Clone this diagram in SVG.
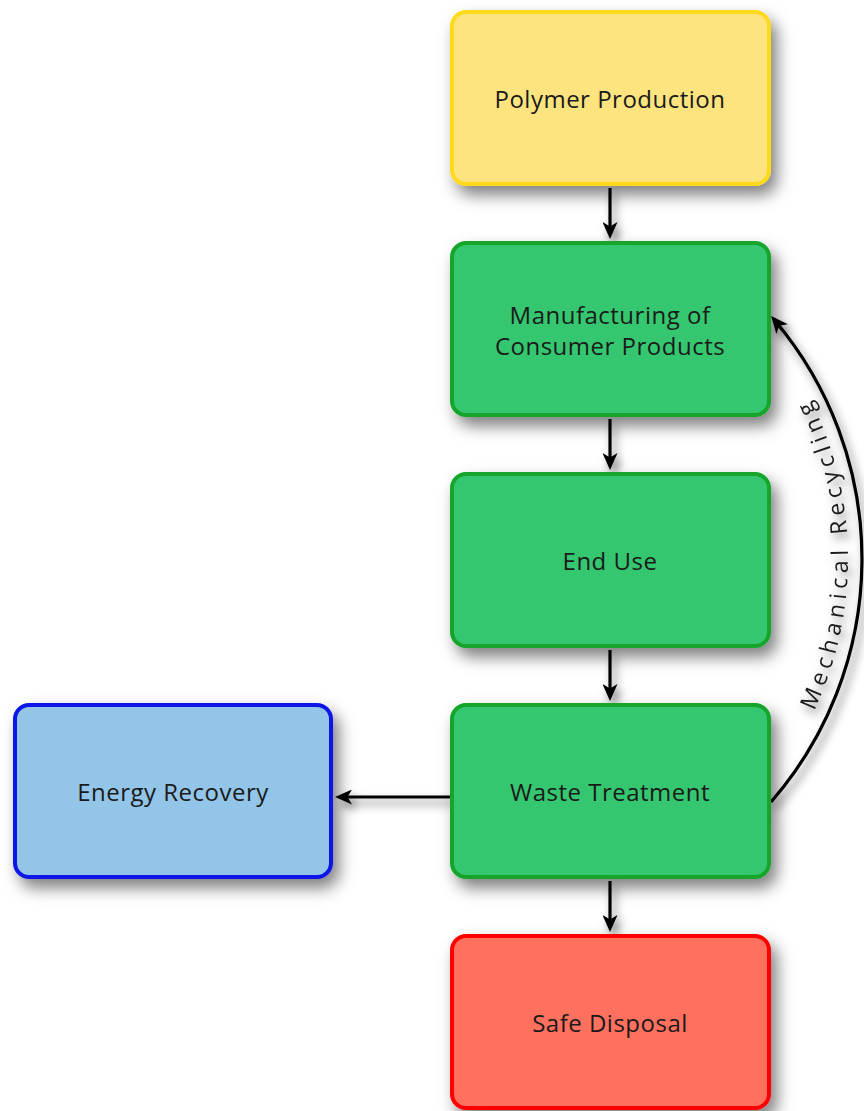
<svg xmlns="http://www.w3.org/2000/svg" width="864" height="1111" viewBox="0 0 864 1111">
  <defs>
    <filter id="shadow" x="-20%" y="-20%" width="150%" height="160%">
      <feDropShadow dx="6" dy="9" stdDeviation="8" flood-color="#000" flood-opacity="0.5"/>
    </filter>
    <filter id="lineShadow" x="-20%" y="-20%" width="150%" height="150%">
      <feDropShadow dx="4" dy="6" stdDeviation="5" flood-color="#000" flood-opacity="0.55"/>
    </filter>
    <marker id="head" viewBox="0 0 17 15" refX="11" refY="7.5" markerWidth="17" markerHeight="15" markerUnits="userSpaceOnUse" orient="auto">
      <path d="M0,0 L17,7.5 L0,15 L4.5,7.5 Z" fill="#000"/>
    </marker>
    <path id="recyclePath" d="M748.1,806.3 A356,356 0 0 0 739.3,302.9"/>
  </defs>
  <style>
    .box { stroke-width: 4; filter: url(#shadow); }
    .yellow { fill: #FDE47E; stroke: #FFD91A; }
    .green { fill: #34C770; stroke: #12A52A; }
    .blue { fill: #93C5E8; stroke: #0B18E6; }
    .red { fill: #FF6F5F; stroke: #FF0000; }
    .label { font-family: "Open Sans", "Noto Sans", sans-serif; font-size: 24px; letter-spacing: 0.5px; fill: #1a1a1a; text-anchor: middle; dominant-baseline: central; }
    .conn { fill: none; stroke: #000; stroke-width: 3.2; marker-end: url(#head); }
    .arc-label { font-family: "Open Sans", "Noto Sans", sans-serif; font-size: 23px; letter-spacing: 5px; fill: #1a1a1a; }
  </style>

  <rect width="864" height="1111" fill="#FFFFFF"/>

  <g id="connectors" filter="url(#lineShadow)">
    <line class="conn" x1="610" y1="188" x2="610" y2="233"/>
    <line class="conn" x1="610" y1="419" x2="610" y2="464"/>
    <line class="conn" x1="610" y1="650" x2="610" y2="695"/>
    <line class="conn" x1="610" y1="881" x2="610" y2="926"/>
    <line class="conn" x1="450" y1="797" x2="341" y2="797"/>
    <path class="conn" d="M771,802 A370,370 0 0 0 775,320.7"/>
    <text class="arc-label"><textPath href="#recyclePath" startOffset="50%" text-anchor="middle">Mechanical Recycling</textPath></text>
  </g>

  <g id="polymer-production">
    <rect class="box yellow" x="452" y="12" width="317" height="172" rx="14"/>
    <text class="label" x="610" y="98">Polymer Production</text>
  </g>

  <g id="manufacturing">
    <rect class="box green" x="452" y="243" width="317" height="172" rx="14"/>
    <text class="label" x="610" y="314">Manufacturing of</text>
    <text class="label" x="610" y="345">Consumer Products</text>
  </g>

  <g id="end-use">
    <rect class="box green" x="452" y="474" width="317" height="172" rx="14"/>
    <text class="label" x="610" y="560">End Use</text>
  </g>

  <g id="waste-treatment">
    <rect class="box green" x="452" y="705" width="317" height="172" rx="14"/>
    <text class="label" x="610" y="791">Waste Treatment</text>
  </g>

  <g id="energy-recovery">
    <rect class="box blue" x="15" y="705" width="316" height="172" rx="14"/>
    <text class="label" x="173" y="791">Energy Recovery</text>
  </g>

  <g id="safe-disposal">
    <rect class="box red" x="452" y="936" width="317" height="172" rx="14"/>
    <text class="label" x="610" y="1022">Safe Disposal</text>
  </g>
</svg>
